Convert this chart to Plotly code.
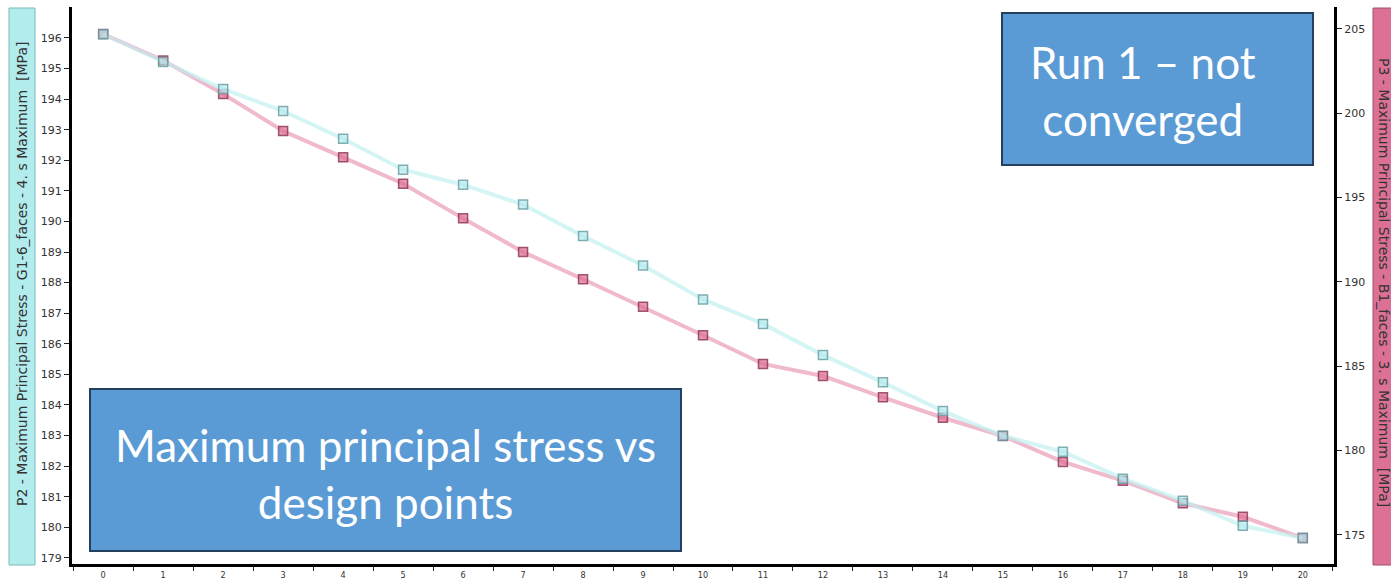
import plotly.graph_objects as go

# Design point index along the x axis
design_points = [str(i) for i in range(21)]

# P2 - Maximum Principal Stress - G1-6_faces (left axis) [MPa]
p2_stress = [196.12, 195.21, 194.33, 193.61, 192.70, 191.69, 191.20, 190.55,
             189.52, 188.56, 187.45, 186.65, 185.63, 184.74, 183.80, 182.99,
             182.47, 181.59, 180.87, 180.05, 179.65]

# P3 - Maximum Principal Stress - B1_faces (right axis) [MPa]
p3_stress = [204.70, 203.13, 201.14, 198.95, 197.39, 195.82, 193.77, 191.78,
             190.16, 188.53, 186.84, 185.14, 184.43, 183.16, 181.95, 180.87,
             179.33, 178.22, 176.88, 176.08, 174.82]

left_ticks = list(range(179, 197))
right_ticks = [175, 180, 185, 190, 195, 200, 205]

W, H = 1391, 580
L, R, T, B = 72, 57, 7, 16
PW, PH = W - L - R, H - T - B


def px(x):
    return (x - L) / PW


def py(y):
    return (H - B - y) / PH


fig = go.Figure()

# P3 sits on the base (right-hand) axis so that P2 is drawn over it
fig.add_trace(go.Scatter(
    x=design_points, y=p3_stress, yaxis="y", mode="lines+markers",
    line=dict(color="rgba(228,130,163,0.55)", width=4),
    marker=dict(symbol="square", size=9, color="rgba(222,110,148,0.7)",
                line=dict(color="rgba(130,40,70,0.75)", width=1.5)),
    showlegend=False,
))
fig.add_trace(go.Scatter(
    x=design_points, y=p2_stress, yaxis="y2", mode="lines+markers",
    line=dict(color="rgba(190,240,240,0.65)", width=4),
    marker=dict(symbol="square", size=9, color="rgba(175,232,235,0.6)",
                line=dict(color="rgba(100,155,160,0.8)", width=1.5)),
    showlegend=False,
))

tick_font = dict(family="DejaVu Sans", size=11, color="#333333")

fig.update_layout(
    width=W, height=H,
    margin=dict(l=L, r=R, t=T, b=B, autoexpand=False),
    paper_bgcolor="white", plot_bgcolor="white",
    xaxis=dict(
        type="category", range=[-0.52, 20.52], tickson="boundaries",
        ticks="outside", ticklen=4, tickwidth=1, tickcolor="#222",
        showline=True, linecolor="black", linewidth=3, showgrid=False,
        zeroline=False, ticklabelstandoff=0, automargin=False,
        tickfont=dict(family="DejaVu Sans Condensed, DejaVu Sans", size=9, color="#333"),
    ),
    yaxis=dict(
        range=[173.28, 206.30], tickvals=right_ticks, side="right",
        ticks="outside", ticklen=5, tickwidth=1, tickcolor="#222",
        showline=True, linecolor="black", linewidth=3, showgrid=False,
        zeroline=False, tickfont=tick_font, automargin=False,
    ),
    yaxis2=dict(
        range=[178.80, 197.01], tickvals=left_ticks, overlaying="y",
        side="left", anchor="x", ticks="outside", ticklen=5, tickwidth=1,
        tickcolor="#222", showline=True, linecolor="black", linewidth=3,
        showgrid=False, zeroline=False, tickfont=tick_font, automargin=False,
    ),
)

shapes = []
annotations = []

# Axis title boxes
shapes.append(dict(type="rect", xref="paper", yref="paper",
                   x0=px(9), x1=px(35), y0=py(565), y1=py(8),
                   fillcolor="#b3ecec", line=dict(color="#7fb8b8", width=1)))
annotations.append(dict(xref="paper", yref="paper", x=px(22), y=py(274),
                        xanchor="center", yanchor="middle",
                        text="P2 - Maximum Principal Stress - G1-6_faces - 4. s Maximum  [MPa]",
                        textangle=-90, showarrow=False,
                        font=dict(family="DejaVu Sans", size=14, color="#333333")))
shapes.append(dict(type="rect", xref="paper", yref="paper",
                   x0=px(1373), x1=px(1398), y0=py(565), y1=py(8),
                   fillcolor="#dc7095", line=dict(color="#a05070", width=1)))
annotations.append(dict(xref="paper", yref="paper", x=px(1384), y=py(282),
                        xanchor="center", yanchor="middle",
                        text="P3 - Maximum Principal Stress - B1_faces - 3. s Maximum  [MPa]",
                        textangle=90, showarrow=False,
                        font=dict(family="DejaVu Sans", size=14, color="#333333")))

# Callout boxes
box_font = dict(family="Lato", size=44, color="white")
shapes.append(dict(type="rect", xref="paper", yref="paper",
                   x0=px(1002), x1=px(1313), y0=py(165), y1=py(13),
                   fillcolor="#5b9bd5", line=dict(color="#24405e", width=2)))
annotations.append(dict(xref="paper", yref="paper", x=px(1143), y=py(90),
                        xanchor="center", yanchor="middle",
                        text="Run 1 – not<br>converged", showarrow=False,
                        font=box_font))
shapes.append(dict(type="rect", xref="paper", yref="paper",
                   x0=px(90), x1=px(681), y0=py(551), y1=py(389),
                   fillcolor="#5b9bd5", line=dict(color="#24405e", width=2)))
annotations.append(dict(xref="paper", yref="paper", x=px(385), y=py(473),
                        xanchor="center", yanchor="middle",
                        text="Maximum principal stress vs<br>design points",
                        showarrow=False, font=box_font))

fig.update_layout(shapes=shapes, annotations=annotations)

fig.write_html("out.html")
